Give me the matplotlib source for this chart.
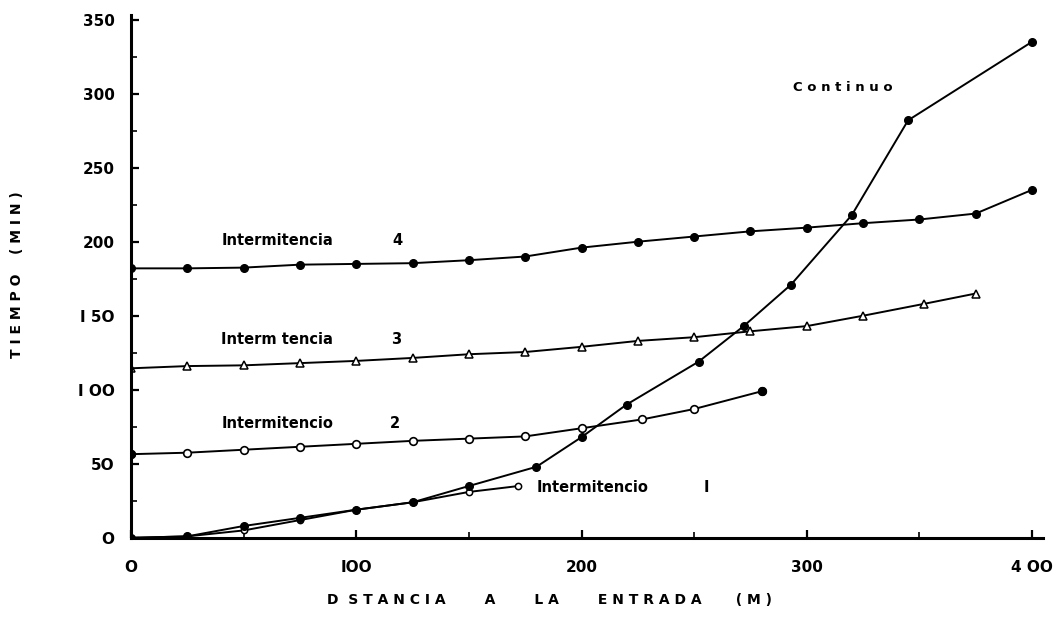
import matplotlib
matplotlib.use("Agg")
import matplotlib.pyplot as plt

# distancia a la entrada (m) / tiempo (min)
cont_x = [0, 25, 50, 75, 100, 125, 150, 180, 200, 220, 252, 272, 293, 320, 345, 400]
cont_y = [0, 1, 8, 13.5, 19, 24, 35, 48, 68, 90, 119, 143, 171, 218, 282, 335]

int1_x = [0, 25, 50, 75, 100, 125, 150, 172]
int1_y = [0, 1, 5, 12, 19, 24, 31, 35]

int2_x = [0, 25, 50, 75, 100, 125, 150, 175, 200, 227, 250, 280]
int2_y = [56.5, 57.5, 59.5, 61.5, 63.5, 65.5, 67, 68.5, 74, 80, 87, 99]

int3_x = [0, 25, 50, 75, 100, 125, 150, 175, 200, 225, 250, 275, 300, 325, 352, 375]
int3_y = [114.5, 116, 116.5, 118, 119.5, 121.5, 124, 125.5, 129, 133, 135.5, 139.5, 143, 150, 158, 165]

int4_x = [0, 25, 50, 75, 100, 125, 150, 175, 200, 225, 250, 275, 300, 325, 350, 375, 400]
int4_y = [182, 182, 182.5, 184.5, 185, 185.5, 187.5, 190, 196, 200, 203.5, 207, 209.5, 212.5, 215, 219, 235]

x_ticks = [0, 100, 200, 300, 400]
y_ticks = [0, 50, 100, 150, 200, 250, 300, 350]

fig = plt.figure(figsize=(10.57, 6.32), dpi=100)
ax = fig.add_axes([0.124, 0.149, 0.863, 0.827])

lw = 1.4
ax.plot(int1_x, int1_y, color="black", lw=lw, marker="o", ms=4.5,
        mfc="white", mec="black", mew=1.1)
ax.plot(cont_x, cont_y, color="black", lw=lw, marker="o", ms=5.5)
ax.plot(int2_x, int2_y, color="black", lw=lw, marker="o", ms=5.5,
        mfc="white", mec="black", mew=1.2)
ax.plot(int3_x, int3_y, color="black", lw=lw, marker="^", ms=5.5,
        mfc="white", mec="black", mew=1.1)
ax.plot(int4_x, int4_y, color="black", lw=lw, marker="o", ms=5.5)
# filled first and last points of int 2
ax.plot([int2_x[0], int2_x[-1]], [int2_y[0], int2_y[-1]], ls="none",
        marker="o", ms=5.5, color="black")

ax.set_xlim(0, 405)
ax.set_ylim(0, 353)
for s in ["top", "right"]:
    ax.spines[s].set_visible(False)
for s in ["left", "bottom"]:
    ax.spines[s].set_linewidth(2.2)

ax.set_xticks(x_ticks)
ax.set_xticklabels(["O", "IOO", "200", "300", "4 OO"])
ax.set_xticks(range(0, 401, 50), minor=True)
ax.set_yticks(y_ticks)
ax.set_yticklabels(["O", "5O", "I OO", "I 5O", "200", "250", "300", "350"])
ax.set_yticks(range(0, 351, 25), minor=True)
ax.tick_params(axis="x", which="major", pad=16)
ax.tick_params(axis="y", which="major", pad=12)
ax.tick_params(axis="both", which="major", direction="in", length=6, width=1.6,
               labelsize=11)
ax.tick_params(axis="both", which="minor", direction="in", length=4, width=1.2)
for lab in ax.get_xticklabels() + ax.get_yticklabels():
    lab.set_fontweight("bold")

tkw = dict(fontsize=10.5, fontweight="bold", va="center")
ax.text(40, 201, "Intermitencia", **tkw)
ax.text(116, 201, "4", **tkw)
ax.text(40, 134, "Interm tencia", **tkw)
ax.text(115.5, 134, "3", **tkw)
ax.text(40, 77, "Intermitencio", **tkw)
ax.text(115, 77, "2", **tkw)
ax.text(180, 34, "Intermitencio", **tkw)
ax.text(254, 34, "I", **tkw)
ax.text(294, 304, "C o n t i n u o", fontsize=9.5, fontweight="bold", va="center")

fig.text(0.016, 0.565, "T I E M P O    ( M I N )", rotation=90, ha="center",
         va="center", fontsize=10, fontweight="bold")
fig.text(0.52, 0.05, "D  S T A N C I A        A        L A        E N T R A D A       ( M )",
         ha="center", va="center", fontsize=10, fontweight="bold")

fig.savefig("out.png", dpi=100)
